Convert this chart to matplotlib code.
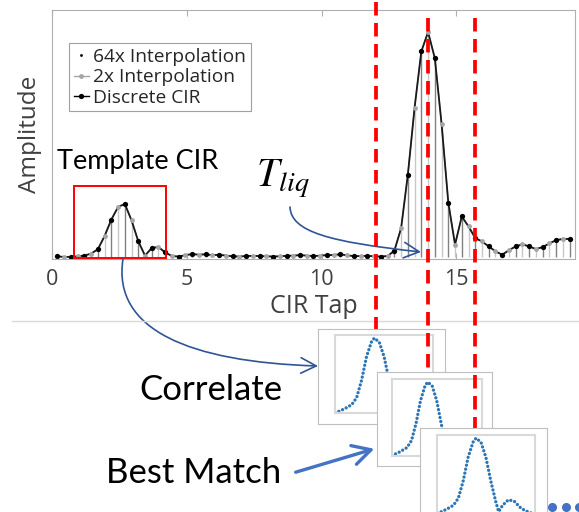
import matplotlib
matplotlib.use("Agg")
import matplotlib.pyplot as plt
import numpy as np
from matplotlib.lines import Line2D
from matplotlib.patches import Rectangle, FancyArrowPatch
from matplotlib.path import Path

# discrete CIR taps (every 0.5) and the 2x interpolated points in between
cir_tap = np.arange(0.2, 19.3, 0.5)
cir_amp = [0.003, 0.000, 0.006, 0.034, 0.166, 0.236, 0.070, 0.040, 0.020, 0.002,
           0.013, 0.012, 0.010, 0.003, 0.004, 0.004, 0.002, 0.005, 0.008, 0.004,
           0.008, 0.012, 0.004, 0.005, 0.002, 0.028, 0.366, 0.914, 0.884, 0.242,
           0.180, 0.084, 0.047, 0.010, 0.047, 0.047, 0.044, 0.075, 0.080]
tap_2x = np.arange(0.45, 19.0, 0.5)
amp_2x = [0.000, 0.003, 0.015, 0.093, 0.222, 0.163, 0.006, 0.044, 0.004, 0.008,
          0.010, 0.008, 0.006, 0.002, 0.005, 0.003, 0.003, 0.006, 0.006, 0.006,
          0.009, 0.007, 0.004, 0.003, 0.004, 0.128, 0.664, 1.000, 0.593, 0.055,
          0.136, 0.069, 0.025, 0.030, 0.056, 0.035, 0.060, 0.080]

# correlation snippet shown in the small panels (fraction of panel)
corr_x = [0.00, 0.05, 0.10, 0.17, 0.22, 0.27, 0.32, 0.37, 0.40, 0.45,
          0.50, 0.55, 0.60, 0.63, 0.67, 0.73, 0.79, 0.86, 0.94, 1.00]
corr_y = [0.01, 0.03, 0.06, 0.11, 0.20, 0.42, 0.72, 0.91, 0.96, 0.91,
          0.72, 0.42, 0.16, 0.03, 0.11, 0.18, 0.16, 0.07, 0.02, 0.00]

xticks = [0, 5, 10, 15]
legend_labels = ['64x Interpolation', '2x Interpolation', 'Discrete CIR']

W, H = 579, 512
fig = plt.figure(figsize=(W / 100, H / 100), dpi=100)
plt.rcParams['font.family'] = ['Open Sans', 'DejaVu Sans']


def fbox(x0, y0, x1, y1):
    return [x0 / W, 1 - y1 / H, (x1 - x0) / W, (y1 - y0) / H]


# main CIR plot
ax = fig.add_axes(fbox(52, 10, 575, 259), zorder=0)
all_tap = np.empty(len(cir_tap) + len(tap_2x))
all_amp = np.empty_like(all_tap)
all_tap[0::2], all_tap[1::2] = cir_tap, tap_2x
all_amp[0::2], all_amp[1::2] = cir_amp, amp_2x

ax.vlines(tap_2x, 0, amp_2x, color='#c8c8c8', lw=1.0)
ax.vlines(cir_tap, 0, cir_amp, color='#808080', lw=1.0)
ax.plot(all_tap, all_amp, color='#a6a6a6', lw=1.0)
ax.plot(all_tap, all_amp, color='#1a1a1a', lw=1.3)
ax.plot(tap_2x, amp_2x, 'o', color='#a6a6a6', ms=3.5, mec='none')
ax.plot(cir_tap, cir_amp, 'o', color='k', ms=3.8, mec='none')

ax.set_xlim(0, 19.4)
ax.set_ylim(-0.009, 1.098)
ax.set_xticks(xticks)
ax.set_yticks([])
ax.tick_params(axis='x', top=True, bottom=True, direction='in', length=4,
               color='#b0b0b0', labelsize=15.5, labelcolor='#404040', pad=7)
for s in ax.spines.values():
    s.set_color('#b0b0b0')
    s.set_linewidth(0.8)
ax.set_xlabel('CIR Tap', fontsize=18, color='#404040')
ax.xaxis.set_label_coords(0.5, -0.14)
ax.set_ylabel('Amplitude', fontsize=17.5, color='#404040')
ax.yaxis.set_label_coords(-0.02, 0.5)

ax.add_patch(Rectangle((0.81, -0.005), 3.41, 0.321, fill=False, ec='red', lw=1.4, zorder=5))

handles = [Line2D([], [], color='k', marker='.', ms=2, ls='None'),
           Line2D([], [], color='#a6a6a6', marker='o', ms=3.5, mec='none', lw=1),
           Line2D([], [], color='k', marker='o', ms=3.8, mec='none', lw=1)]
leg = ax.legend(handles, legend_labels, loc='upper left', bbox_to_anchor=(0.0325, 0.867),
                borderaxespad=0, fontsize=13.8, handlelength=0.8, handletextpad=0.2,
                labelspacing=0.12, borderpad=0.25, fancybox=False, framealpha=1,
                edgecolor='#a0a0a0')
leg.get_frame().set_linewidth(0.8)
for t in leg.get_texts():
    t.set_color('#262626')

# overlay in pixel coordinates for annotations
ov = fig.add_axes([0, 0, 1, 1], zorder=1)
ov.set_xlim(0, W)
ov.set_ylim(H, 0)
ov.axis('off')
ov.patch.set_visible(False)

ov.plot([12, W], [320.7, 320.7], color='#d9d9d9', lw=1)
ov.text(137.5, 162, 'Template CIR', fontsize=19.5, family='Lato', ha='center', va='center')
ov.text(256, 187, r'$T_{liq}$', fontsize=29, math_fontfamily='stix', ha='left', va='baseline')
ov.text(211, 390, 'Correlate', fontsize=25, family='Lato', ha='center', va='center')
ov.text(194, 473, 'Best Match', fontsize=25, family='Lato', ha='center', va='center')


def curved_arrow(pts, color, lw, hl, hw):
    path = Path(pts, [Path.MOVETO, Path.CURVE4, Path.CURVE4, Path.CURVE4])
    ov.add_patch(FancyArrowPatch(path=path, arrowstyle=f'->,head_length={hl},head_width={hw}',
                                 mutation_scale=20, color=color, lw=lw,
                                 transform=ov.transData))


curved_arrow([(290, 207), (291, 232), (330, 242), (421, 252)], '#2f5597', 1.2, 0.55, 0.28)
curved_arrow([(123, 259), (112, 330), (190, 362), (318, 366)], '#2f5597', 1.2, 0.55, 0.28)
ov.add_patch(FancyArrowPatch((293, 473), (377, 448), arrowstyle='->,head_length=0.65,head_width=0.35',
                             mutation_scale=20, color='#4472c4', lw=2.4,
                             transform=ov.transData))
ov.plot([551.5, 566, 579], [507.3, 507.3, 507.3], 'o', color='#4472c4', ms=5.5, clip_on=False)

# red dashed markers and stacked correlation panels
red_x = [376, 428, 475]
red_top = [2, 18, 18]
red_bot = [333, 372, 428]
outer = [(318.3, 329.3, 445, 424), (376.7, 371.7, 491.7, 465.7), (420, 428, 546.7, 535)]
inner = [(335, 335, 433.3, 413.3), (391.7, 379, 481.7, 456), (436.7, 435, 535, 514)]

for k in range(3):
    fig.add_artist(Line2D([red_x[k] / W] * 2, [1 - red_top[k] / H, 1 - red_bot[k] / H],
                          transform=fig.transFigure, color='#ff0000', lw=2.7,
                          ls=(0, (3.6, 2.0)), zorder=1.5 + k))
    ao = fig.add_axes(fbox(*outer[k]), zorder=2 + k)
    ao.set_xticks([])
    ao.set_yticks([])
    for s in ao.spines.values():
        s.set_color('#bfbfbf')
        s.set_linewidth(0.8)
    ai = fig.add_axes(fbox(*inner[k]), zorder=2.2 + k)
    ai.plot(corr_x, corr_y, color='#2e75b6', lw=2.4, ls=(0, (0.01, 1.2)),
            dash_capstyle='round')
    ai.set_xlim(0, 1)
    ai.set_ylim(0, 1)
    ai.set_xticks([])
    ai.set_yticks([])
    for s in ai.spines.values():
        s.set_color('#d9d9d9')
        s.set_linewidth(1.5)

fig.savefig('out.png', dpi=100)
